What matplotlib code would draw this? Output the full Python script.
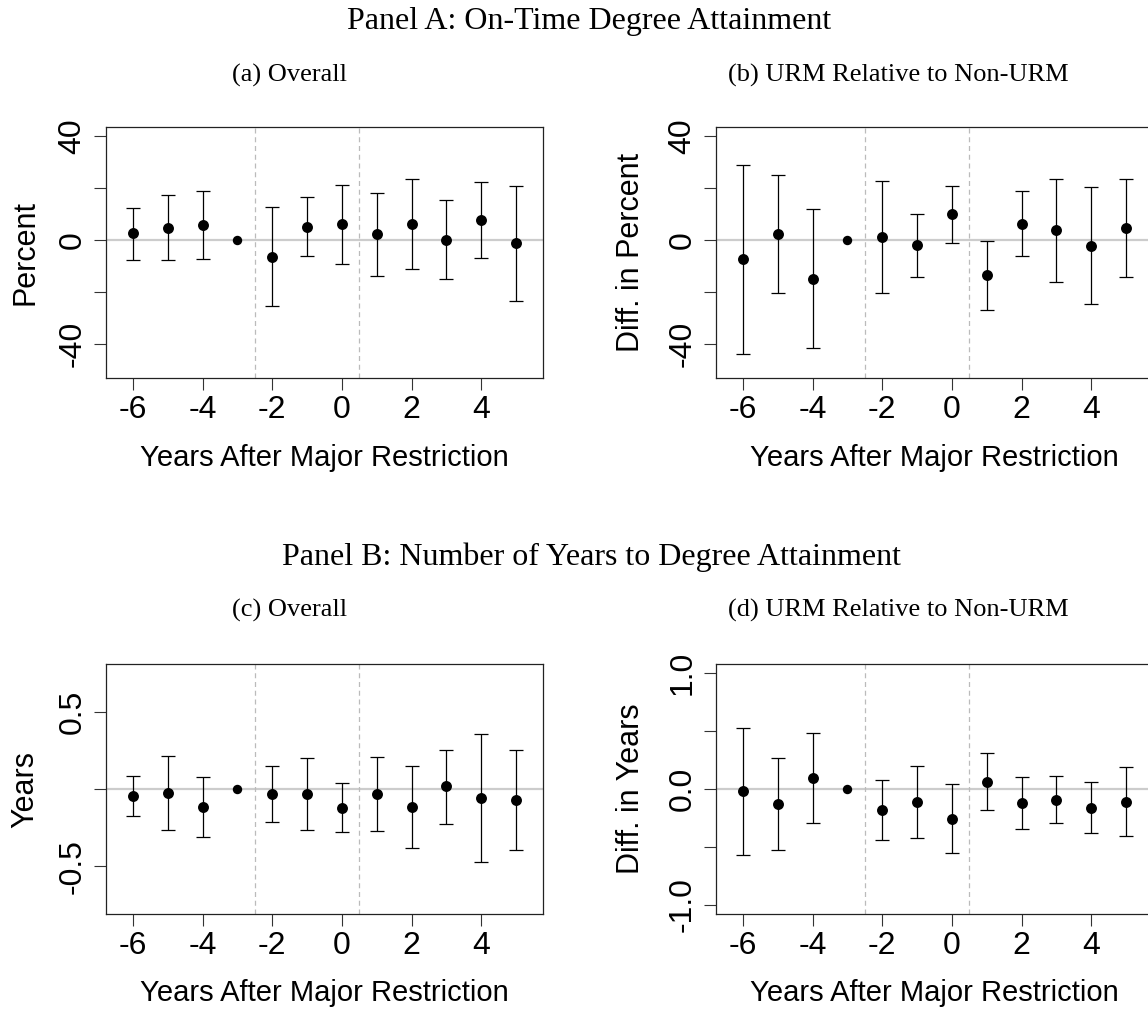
import matplotlib
matplotlib.use("Agg")
import matplotlib.pyplot as plt
import numpy as np

# event time relative to the major restriction (-3 is the omitted reference year)
years = [-6, -5, -4, -3, -2, -1, 0, 1, 2, 3, 4, 5]
ref_year = -3

# (a) on-time degree attainment, overall (percent)
a_est = [2.5, 4.8, 5.7, 0.0, -6.5, 5.0, 6.2, 2.3, 6.3, 0.0, 7.7, -1.2]
a_hi = [12.5, 17.2, 18.8, 0.0, 12.6, 16.4, 21.2, 18.3, 23.7, 15.5, 22.2, 21.0]
a_lo = [-7.9, -7.6, -7.4, 0.0, -25.5, -6.3, -9.2, -13.8, -11.2, -15.2, -6.8, -23.4]

# (b) on-time degree attainment, URM minus non-URM (percent)
b_est = [-7.5, 2.2, -15.1, 0.0, 1.2, -2.1, 9.9, -13.7, 6.3, 3.7, -2.3, 4.8]
b_hi = [28.8, 24.9, 11.9, 0.0, 22.6, 10.2, 21.0, -0.3, 19.0, 23.7, 20.3, 23.6]
b_lo = [-43.9, -20.4, -41.9, 0.0, -20.4, -14.3, -1.2, -27.2, -6.1, -16.4, -24.9, -14.3]

# (c) years to degree, overall
c_est = [-0.045, -0.028, -0.116, 0.0, -0.032, -0.032, -0.122, -0.032, -0.118, 0.019, -0.060, -0.071]
c_hi = [0.084, 0.210, 0.077, 0.0, 0.148, 0.200, 0.036, 0.208, 0.146, 0.255, 0.354, 0.255]
c_lo = [-0.176, -0.264, -0.311, 0.0, -0.210, -0.264, -0.275, -0.270, -0.378, -0.223, -0.470, -0.395]

# (d) years to degree, URM minus non-URM
d_est = [-0.020, -0.126, 0.098, 0.0, -0.181, -0.115, -0.255, 0.063, -0.118, -0.092, -0.164, -0.109]
d_hi = [0.525, 0.270, 0.485, 0.0, 0.077, 0.198, 0.043, 0.313, 0.106, 0.115, 0.057, 0.187]
d_lo = [-0.565, -0.522, -0.296, 0.0, -0.439, -0.422, -0.551, -0.181, -0.341, -0.296, -0.382, -0.405]

pct_ticks = [-40, -20, 0, 20, 40]
pct_labels = ["-40", "", "0", "", "40"]
c_ticks = [-0.5, 0.0, 0.5]
c_labels = ["-0.5", "", "0.5"]
d_ticks = [-1.0, -0.5, 0.0, 0.5, 1.0]
d_labels = ["-1.0", "", "0.0", "", "1.0"]
x_ticks = [-6, -4, -2, 0, 2, 4]

SANS = "Liberation Sans"
SERIF = "Liberation Serif"


def event_plot(ax, est, lo, hi, ylim, yticks, ylabels, ylabel, ylab_x, xlab_y):
    x = np.array(years)
    est = np.array(est)
    lo = np.array(lo)
    hi = np.array(hi)
    keep = x != ref_year

    ax.axhline(0, color="#cccccc", lw=1.6, zorder=1)
    for xv in (-2.5, 0.5):
        ax.axvline(xv, color="#bbbbbb", lw=0.9, ls=(0, (4, 3)), zorder=1)

    ax.errorbar(x[keep], est[keep], yerr=[est[keep] - lo[keep], hi[keep] - est[keep]],
                fmt="none", ecolor="black", elinewidth=0.9, capsize=4.7, capthick=0.9, zorder=2)
    ax.scatter(x[keep], est[keep], s=62, color="black", zorder=3, linewidths=0)
    ax.scatter(x[~keep], est[~keep], s=46, color="black", zorder=3, linewidths=0)

    ax.set_xlim(-6.77, 5.77)
    ax.set_ylim(*ylim)
    ax.set_xticks(x_ticks)
    ax.set_xticklabels([str(t) for t in x_ticks], fontfamily=SANS, fontsize=23)
    ax.set_yticks(yticks)
    ax.set_yticklabels(ylabels, fontfamily=SANS, fontsize=23, rotation=90, va="center")
    ax.tick_params(length=8.5, width=0.8, color="#333333", pad=4)
    ax.tick_params(axis="y", pad=5)
    for sp in ax.spines.values():
        sp.set_linewidth(0.9)
        sp.set_color("#222222")
    ax.set_xlabel("Years After Major Restriction", fontfamily=SANS, fontsize=21)
    ax.xaxis.set_label_coords(0.5, xlab_y)
    ax.xaxis.label.set_va("center")
    ax.set_ylabel(ylabel, fontfamily=SANS, fontsize=22)
    ax.yaxis.set_label_coords(ylab_x, 0.5)
    ax.yaxis.label.set_va("center")


fig = plt.figure(figsize=(11.48, 10.10), dpi=100)
W, H = 1148.0, 1010.0


def add_axes(left, top, right, bottom):
    return fig.add_axes([left / W, 1 - bottom / H, (right - left) / W, (bottom - top) / H])


ax_a = add_axes(106, 127, 543, 378)
ax_b = add_axes(716, 127, 1153, 378)
ax_c = add_axes(106, 664, 543, 914)
ax_d = add_axes(716, 664, 1153, 914)

event_plot(ax_a, a_est, a_lo, a_hi, (-53.3, 43.6), pct_ticks, pct_labels, "Percent", -0.185, -0.319)
event_plot(ax_b, b_est, b_lo, b_hi, (-53.3, 43.6), pct_ticks, pct_labels, "Diff. in Percent", -0.195, -0.319)
event_plot(ax_c, c_est, c_lo, c_hi, (-0.807, 0.807), c_ticks, c_labels, "Years", -0.185, -0.316)
event_plot(ax_d, d_est, d_lo, d_hi, (-1.078, 1.078), d_ticks, d_labels, "Diff. in Years", -0.195, -0.316)

fig.text(589 / W, 1 - 22 / H, "Panel A: On-Time Degree Attainment", fontfamily=SERIF,
         fontsize=23, ha="center", va="center")
fig.text(290 / W, 1 - 75 / H, "(a) Overall", fontfamily=SERIF, fontsize=19, ha="center", va="center")
fig.text(898 / W, 1 - 75 / H, "(b) URM Relative to Non-URM", fontfamily=SERIF, fontsize=19,
         ha="center", va="center")
fig.text(591 / W, 1 - 557 / H, "Panel B: Number of Years to Degree Attainment", fontfamily=SERIF,
         fontsize=23, ha="center", va="center")
fig.text(290 / W, 1 - 610 / H, "(c) Overall", fontfamily=SERIF, fontsize=19, ha="center", va="center")
fig.text(898 / W, 1 - 610 / H, "(d) URM Relative to Non-URM", fontfamily=SERIF, fontsize=19,
         ha="center", va="center")

fig.savefig("out.png", dpi=100)
